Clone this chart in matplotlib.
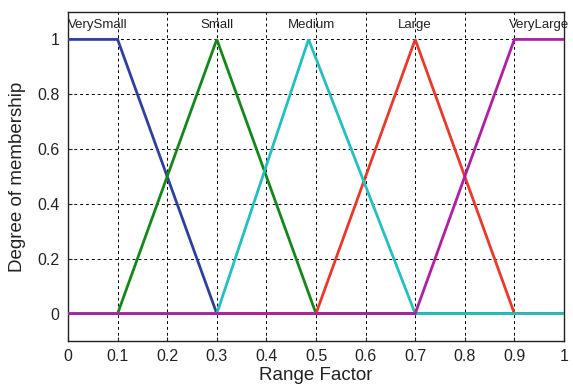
import matplotlib
matplotlib.use("Agg")
import matplotlib.pyplot as plt

# Membership functions for "Range Factor" (breakpoints x, membership y)
names = ["VerySmall", "Small", "Large", "Medium", "VeryLarge"]
xs = [
    [0, 0.1, 0.3, 1],
    [0, 0.1, 0.3, 0.5, 1],
    [0, 0.5, 0.7, 0.9, 1],
    [0, 0.3, 0.485, 0.7, 1],
    [0, 0.7, 0.9, 1],
]
ys = [
    [1, 1, 0, 0],
    [0, 0, 1, 0, 0],
    [0, 0, 1, 0, 0],
    [0, 0, 1, 0, 0],
    [0, 0, 1, 1],
]
colors = ["#2f3f9d", "#15861a", "#e8392a", "#24bfbf", "#ae1fa2"]
label_x = [0.06, 0.3, 0.7, 0.49, 0.95]

xticks = [0, 0.1, 0.2, 0.3, 0.4, 0.5, 0.6, 0.7, 0.8, 0.9, 1]
xtick_labels = ["0", "0.1", "0.2", "0.3", "0.4", "0.5", "0.6", "0.7", "0.8", "0.9", "1"]
yticks = [0, 0.2, 0.4, 0.6, 0.8, 1]
ytick_labels = ["0", "0.2", "0.4", "0.6", "0.8", "1"]

plt.rcParams["font.family"] = ["Liberation Sans", "DejaVu Sans"]

fig = plt.figure(figsize=(5.73, 3.88), dpi=100)
ax = fig.add_axes([68 / 573, 1 - 341 / 388, (564 - 68) / 573, (341 - 12) / 388])

for i, (x, y, c) in enumerate(zip(xs, ys, colors)):
    ax.plot(x, y, color=c, lw=2.0, zorder=3 + i, solid_joinstyle="miter")
    ax.text(label_x[i], 1.052, names[i], ha="center", va="center",
            fontsize=9.5, color="#222222", zorder=10)

ax.set_xlim(0, 1)
ax.set_ylim(-0.1, 1.1)
ax.set_xticks(xticks)
ax.set_xticklabels(xtick_labels)
ax.set_yticks(yticks)
ax.set_yticklabels(ytick_labels)
ax.tick_params(direction="in", length=3, labelsize=11.5, colors="#222222", pad=6)
ax.grid(True, color="black", linestyle=(0, (3, 3)), linewidth=0.7)
for s in ax.spines.values():
    s.set_linewidth(1.0)
    s.set_color("#222222")
ax.set_xlabel("Range Factor", fontsize=13.5, color="#222222", labelpad=2)
ax.set_ylabel("Degree of membership", fontsize=13.5, color="#222222", labelpad=8)

fig.savefig("out.png", dpi=100)
